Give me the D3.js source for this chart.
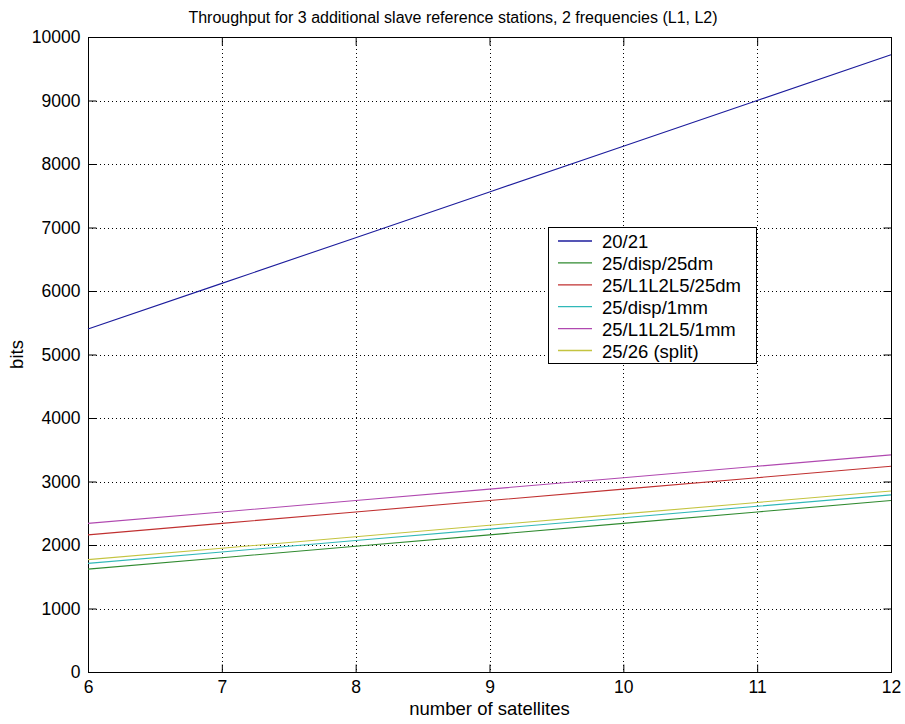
<!DOCTYPE html>
<html><head><meta charset="utf-8">
<script src="https://cdn.jsdelivr.net/npm/d3@7"></script>
<style>body{margin:0;background:#fff;} text{font-family:"Liberation Sans",Arial,sans-serif;}</style>
</head><body>
<svg id="c" width="905" height="724"></svg>
<script>
const satellites = [6, 7, 8, 9, 10, 11, 12];
const seriesNames = ["20/21", "25/disp/25dm", "25/L1L2L5/25dm", "25/disp/1mm", "25/L1L2L5/1mm", "25/26 (split)"];
const s2021 = [5400, 6120, 6840, 7560, 8280, 9000, 9720];
const sDisp25dm = [1620, 1800, 1980, 2160, 2340, 2520, 2700];
const sL125dm = [2160, 2340, 2520, 2700, 2880, 3060, 3240];
const sDisp1mm = [1710, 1890, 2070, 2250, 2430, 2610, 2790];
const sL11mm = [2340, 2520, 2700, 2880, 3060, 3240, 3420];
const sSplit = [1770, 1950, 2130, 2310, 2490, 2670, 2850];
const seriesValues = [s2021, sDisp25dm, sL125dm, sDisp1mm, sL11mm, sSplit];
const colors = ["#1c1c9c", "#2f8a2f", "#c03030", "#30b8b8", "#b048b0", "#c4c440"];
const xTicks = [6, 7, 8, 9, 10, 11, 12];
const yTicks = [0, 1000, 2000, 3000, 4000, 5000, 6000, 7000, 8000, 9000, 10000];

const svg = d3.select("#c");
const L = 88, R = 891, T = 37, B = 672;
const x = d3.scaleLinear().domain([6, 12]).range([L, R]);
const y = d3.scaleLinear().domain([0, 10000]).range([B, T]);

// grid
const g = svg.append("g");
g.selectAll(".gx").data(xTicks.slice(1, -1)).enter().append("line")
  .attr("x1", d => Math.round(x(d)) + 0.5).attr("x2", d => Math.round(x(d)) + 0.5).attr("y1", T).attr("y2", B)
  .attr("stroke", "#000").attr("stroke-width", 1).attr("stroke-dasharray", "1,3");
g.selectAll(".gy").data(yTicks.slice(1, -1)).enter().append("line")
  .attr("y1", d => Math.round(y(d)) + 0.5).attr("y2", d => Math.round(y(d)) + 0.5).attr("x1", L).attr("x2", R)
  .attr("stroke", "#000").attr("stroke-width", 1).attr("stroke-dasharray", "1,3");

// axes
const tickFont = "17.5px";
const axB = svg.append("g").attr("transform", `translate(0,${B + 0.5})`)
  .call(d3.axisBottom(x).tickValues(xTicks).tickSize(-8).tickPadding(8).tickFormat(d3.format("d")));
const axT = svg.append("g").attr("transform", `translate(0,${T + 0.5})`)
  .call(d3.axisTop(x).tickValues(xTicks).tickSize(-8).tickFormat(""));
const axL = svg.append("g").attr("transform", `translate(${L + 0.5},0)`)
  .call(d3.axisLeft(y).tickValues(yTicks).tickSize(-8).tickPadding(8).tickFormat(d3.format("d")));
const axR = svg.append("g").attr("transform", `translate(${R + 0.5},0)`)
  .call(d3.axisRight(y).tickValues(yTicks).tickSize(-8).tickFormat(""));
[axB, axT, axL, axR].forEach(a => {
  a.selectAll("path").remove();
  a.selectAll("line").attr("stroke", "#000");
  a.selectAll("text").attr("fill", "#000").style("font-size", tickFont).style("font-family", "'Liberation Sans',Arial,sans-serif");
});
svg.append("rect").attr("x", L + 0.5).attr("y", T + 0.5).attr("width", R - L).attr("height", B - T)
  .attr("fill", "none").attr("stroke", "#000");

// lines
const line = d3.line().x((d, i) => x(satellites[i])).y(d => y(d));
seriesValues.forEach((vals, k) => {
  svg.append("path").datum(vals).attr("d", line).attr("fill", "none")
    .attr("stroke", colors[k]).attr("stroke-width", 1.1);
});

// title & labels
svg.append("text").attr("x", 453).attr("y", 23).attr("text-anchor", "middle")
  .style("font-size", "16px").text("Throughput for 3 additional slave reference stations, 2 frequencies (L1, L2)");
svg.append("text").attr("x", (L + R) / 2).attr("y", 715).attr("text-anchor", "middle")
  .style("font-size", "18.5px").text("number of satellites");
svg.append("text").attr("transform", `translate(23,${(T + B) / 2}) rotate(-90)`).attr("text-anchor", "middle")
  .style("font-size", "18.5px").text("bits");

// legend
const lg = svg.append("g").attr("transform", "translate(548,227)");
lg.append("rect").attr("x", 0.5).attr("y", 0.5).attr("width", 208).attr("height", 136)
  .attr("fill", "#fff").attr("stroke", "#000");
seriesNames.forEach((n, k) => {
  const yy = 14 + k * 21.9;
  lg.append("line").attr("x1", 10).attr("x2", 44).attr("y1", yy).attr("y2", yy).attr("stroke", colors[k]).attr("stroke-width", 1.3);
  lg.append("text").attr("x", 54).attr("y", yy + 7).style("font-size", "18.5px").text(n);
});
</script>
</body></html>
